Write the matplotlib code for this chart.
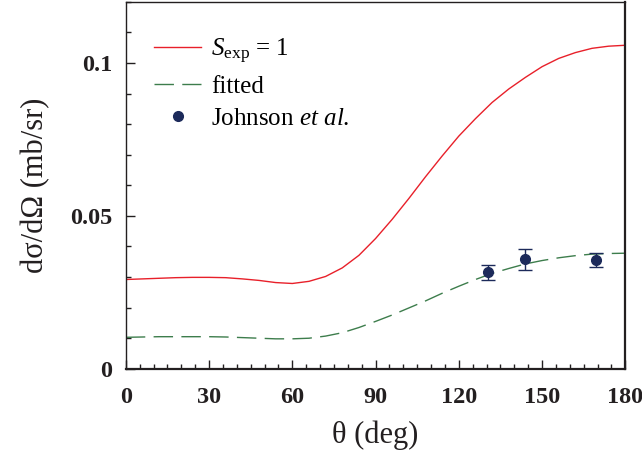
import matplotlib
matplotlib.use("Agg")
import matplotlib.pyplot as plt
from matplotlib.ticker import MultipleLocator

plt.rcParams['font.family'] = ['Liberation Serif', 'DejaVu Serif']
plt.rcParams['mathtext.fontset'] = 'custom'
plt.rcParams['mathtext.rm'] = 'Liberation Serif'
plt.rcParams['mathtext.it'] = 'Liberation Serif:italic'

theta = [0, 6, 12, 18, 24, 30, 36, 42, 48, 54, 60, 66, 72, 78, 84, 90,
         96, 102, 108, 114, 120, 126, 132, 138, 144, 150, 156, 162, 168, 174, 180]
xs_s1 = [0.0292, 0.0294, 0.0296, 0.0298, 0.0299, 0.0299, 0.0298, 0.0294, 0.0289,
         0.0282, 0.0279, 0.0286, 0.0302, 0.0330, 0.0371, 0.0426, 0.0489, 0.0557,
         0.0628, 0.0696, 0.0761, 0.0818, 0.0871, 0.0915, 0.0953, 0.0988, 0.1015,
         0.1034, 0.1048, 0.1055, 0.1058]
xs_fit = [0.0103, 0.0104, 0.0105, 0.0105, 0.0105, 0.0105, 0.0104, 0.0102, 0.0100,
          0.0098, 0.0098, 0.0100, 0.0107, 0.0118, 0.0135, 0.0155, 0.0176, 0.0199,
          0.0222, 0.0247, 0.0270, 0.0292, 0.0312, 0.0328, 0.0343, 0.0354, 0.0363,
          0.0370, 0.0375, 0.0377, 0.0378]

# Johnson et al. data
exp_theta = [130.6, 143.9, 169.3]
exp_xs = [0.0315, 0.0358, 0.0355]
exp_err = [0.0025, 0.0035, 0.0023]

ink = '#231f20'
navy = '#1c2a5a'

fig = plt.figure(figsize=(6.42, 4.61), dpi=100)
ax = fig.add_axes([0.196, 0.200, 0.778, 0.796])

ax.plot(theta, xs_s1, color='#e8202a', lw=1.0, label=r'$S_{\rm exp}$ = 1')
ax.plot(theta, xs_fit, color='#3d7d4c', lw=1.0, dashes=(14, 6), label='fitted')
ax.errorbar(exp_theta, exp_xs, yerr=exp_err, fmt='none', ecolor=navy,
            capsize=5, elinewidth=1.0, capthick=1.0)
ax.plot(exp_theta, exp_xs, 'o', color=navy, ms=7, label=r'Johnson $et$ $al$.')

ax.set_xlim(0, 180)
ax.set_ylim(0, 0.12)
ax.xaxis.set_major_locator(MultipleLocator(30))
ax.xaxis.set_minor_locator(MultipleLocator(5))
ax.set_yticks([0, 0.05, 0.1])
ax.set_yticklabels(['0', '0.05', '0.1'])
ax.yaxis.set_minor_locator(MultipleLocator(0.01))

ax.tick_params(which='both', direction='in', top=False, right=False, width=1.0,
               labelsize=17.5, colors=ink)
ax.tick_params(which='major', length=6.5)
ax.tick_params(axis='x', which='major', pad=13)
ax.tick_params(axis='y', which='major', pad=10)
ax.tick_params(which='minor', length=3.6)
for lab in ax.get_xticklabels() + ax.get_yticklabels():
    lab.set_fontweight('bold')

for side in ['left', 'top']:
    ax.spines[side].set_linewidth(1.0)
for side in ['bottom', 'right']:
    ax.spines[side].set_linewidth(1.6)
for sp in ax.spines.values():
    sp.set_color(ink)

ax.set_xlabel('θ (deg)', fontsize=22, labelpad=9, color=ink)
ax.set_ylabel('dσ/dΩ (mb/sr)', fontsize=22, labelpad=14, color=ink)

leg = ax.legend(loc='upper left', fontsize=18, frameon=False, handlelength=1.9,
                handletextpad=0.4, labelspacing=0.38, borderpad=0,
                borderaxespad=0, bbox_to_anchor=(0.056, 0.905))

fig.savefig('out.png', dpi=100)
